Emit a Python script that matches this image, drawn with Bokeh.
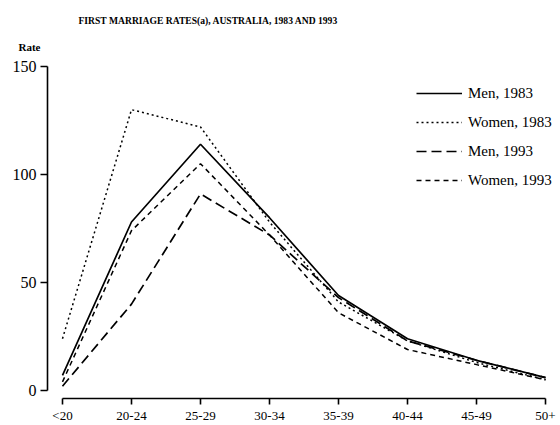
from bokeh.plotting import figure
from bokeh.models import Range1d, Title, Legend, LegendItem, FixedTicker
from bokeh.embed import file_html
from bokeh.resources import INLINE

# ---- data ----
age_groups = ["<20", "20-24", "25-29", "30-34", "35-39", "40-44", "45-49", "50+"]
men_1983 = [7, 78, 114, 80, 44, 24, 14, 6]
women_1983 = [24, 130, 122, 78, 41, 23, 13, 5]
men_1993 = [2, 40, 91, 72, 43, 23, 14, 6]
women_1993 = [4, 74, 105, 72, 36, 19, 12, 5]
y_ticks = [0, 50, 100, 150]

title_text = "FIRST MARRIAGE RATES(a), AUSTRALIA, 1983 AND 1993"
y_title = "Rate"

x = list(range(len(age_groups)))
SERIF = "Liberation Serif"

p = figure(width=560, height=425, output_backend="svg", toolbar_location=None,
           title=None,
           x_range=Range1d(-0.217, 7.188), y_range=Range1d(-3.68, 152.76),
           min_border_left=47, min_border_right=2, min_border_top=60,
           min_border_bottom=25)
p.outline_line_color = None
p.xgrid.visible = False
p.ygrid.visible = False
p.background_fill_color = "white"
p.border_fill_color = "white"

series = [
    ("Men, 1983", men_1983, "solid", 1.7),
    ("Women, 1983", women_1983, "2 3", 1.5),
    ("Men, 1993", men_1993, "10 5", 1.7),
    ("Women, 1993", women_1993, "5 4", 1.5),
]
items = []
for name, vals, dash, w in series:
    r = p.line(x, vals, line_color="black", line_width=w, line_dash=dash)
    items.append(LegendItem(label=name, renderers=[r]))

legend = Legend(items=items, location=(369, 208), orientation="vertical",
                glyph_width=46, glyph_height=20, label_height=20, spacing=9,
                padding=0, margin=0, label_standoff=6,
                border_line_color=None, background_fill_alpha=0,
                label_text_font=SERIF, label_text_font_size="15px",
                label_text_color="black")
p.add_layout(legend, "center")

# axes
ya = p.yaxis[0]
ya.ticker = FixedTicker(ticks=y_ticks)
ya.bounds = (0, 150)
ya.major_tick_out = 7
ya.major_tick_in = 0
ya.minor_tick_line_color = None
ya.axis_line_width = 1.6
ya.major_tick_line_width = 1.6
ya.axis_line_color = "black"
ya.major_label_text_font = SERIF
ya.major_label_text_font_size = "16px"
ya.major_label_text_color = "black"
ya.major_label_standoff = 4

xa = p.xaxis[0]
xa.ticker = FixedTicker(ticks=x)
xa.major_label_overrides = {i: lab for i, lab in enumerate(age_groups)}
xa.bounds = (0, 7)
xa.major_tick_out = 6
xa.major_tick_in = 0
xa.minor_tick_line_color = None
xa.axis_line_width = 1.6
xa.major_tick_line_width = 1.6
xa.axis_line_color = "black"
xa.major_label_text_font = SERIF
xa.major_label_text_font_size = "13px"
xa.major_label_text_color = "black"
xa.major_label_standoff = 3

p.add_layout(Title(text=y_title, align="left", offset=-29, standoff=16,
                   text_font=SERIF, text_font_style="bold",
                   text_font_size="11px", text_color="black"), "above")
p.add_layout(Title(text=title_text, align="left", offset=31, standoff=10,
                   text_font=SERIF, text_font_style="bold",
                   text_font_size="9.6px", text_color="black"), "above")

open("out.html", "w").write(file_html(p, INLINE))
